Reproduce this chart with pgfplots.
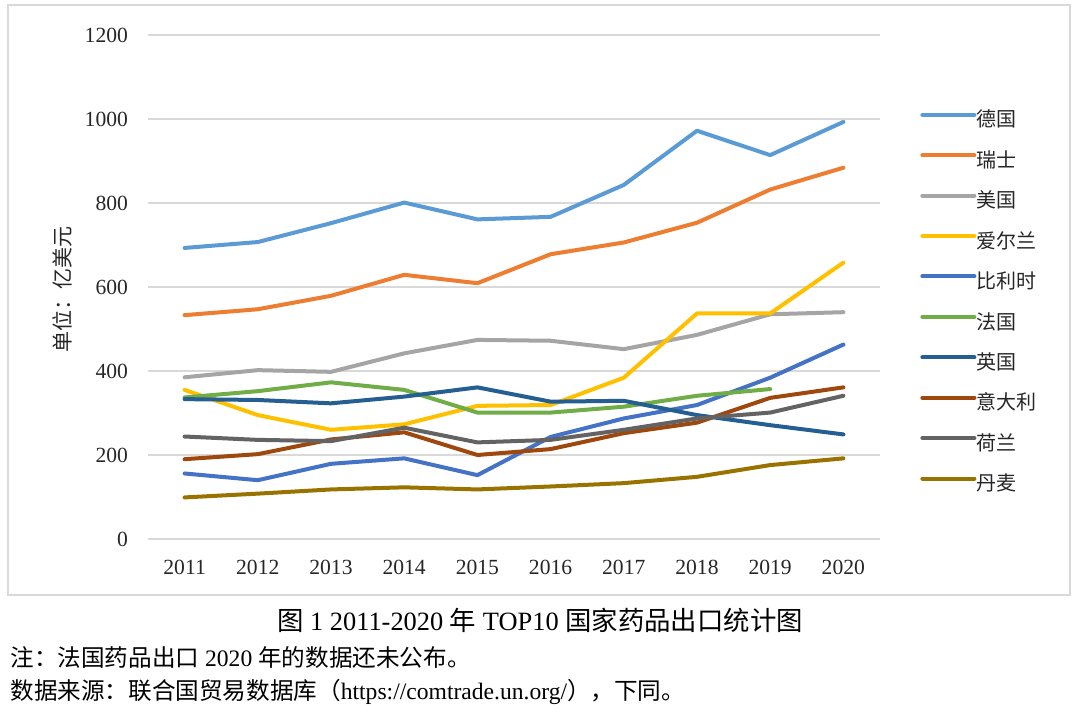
\documentclass[border=0pt]{standalone}
\usepackage{pgfplots}
\pgfplotsset{compat=1.18}
\usepackage{fontspec}
\setmainfont{Liberation Serif}
\newfontfamily\cjk{Noto Sans CJK SC}

\definecolor{cDE}{HTML}{5B9BD5}
\definecolor{cCH}{HTML}{ED7D31}
\definecolor{cUS}{HTML}{A5A5A5}
\definecolor{cIE}{HTML}{FFC000}
\definecolor{cBE}{HTML}{4472C4}
\definecolor{cFR}{HTML}{70AD47}
\definecolor{cGB}{HTML}{255E91}
\definecolor{cIT}{HTML}{9E480E}
\definecolor{cNL}{HTML}{636363}
\definecolor{cDK}{HTML}{997300}
\definecolor{gridgray}{HTML}{D9D9D9}
\definecolor{txt}{HTML}{262626}

\begin{document}
\begin{tikzpicture}
  \path[use as bounding box] (0pt,0pt) rectangle (540pt,358pt);
  % frame of the chart
  \draw[gridgray, line width=0.6pt] (4pt,60.5pt) rectangle (535pt,355.5pt);
  \begin{axis}[
      at={(74pt,88.5pt)}, anchor=south west,
      scale only axis, width=366pt, height=252pt,
      xmin=2010.5, xmax=2020.5,
      ymin=0, ymax=1200,
      xtick={2011,...,2020},
      ytick={0,200,...,1200},
      /pgf/number format/1000 sep={},
      xticklabel style={yshift=-7pt},
      yticklabel style={xshift=-6.5pt},
      /pgf/number format/assume math mode=true,
      ticklabel style={font=\fontsize{10.8}{12}\selectfont, text=txt},
      major tick length=0pt,
      axis line style={draw=none},
      ymajorgrids, grid style={gridgray, line width=0.6pt},
      every axis plot/.append style={line width=2pt, line cap=round, line join=round},
      legend style={at={(1.0546,0.848)}, anchor=north west, draw=none, fill=none,
        inner sep=0pt, row sep=10.7pt, font=\cjk\fontsize{10}{12}\selectfont, text=txt,
        nodes={inner sep=0pt, text height=7.5pt, text depth=2pt},
        /tikz/every even column/.append style={column sep=3pt}},
      legend cell align=left,
      legend image code/.code={\draw[#1] (0pt,3.3pt) -- (26pt,3.3pt);},
    ]
    % x axis line at 0
    \draw[gridgray, line width=0.6pt] (axis cs:2010.5,0) -- (axis cs:2020.5,0);

    \addplot[cDE] coordinates {(2011,693) (2012,707) (2013,752) (2014,801) (2015,761) (2016,767) (2017,843) (2018,972) (2019,914) (2020,993)};
    \addplot[cCH] coordinates {(2011,533) (2012,547) (2013,579) (2014,629) (2015,609) (2016,678) (2017,706) (2018,753) (2019,832) (2020,884)};
    \addplot[cUS] coordinates {(2011,385) (2012,402) (2013,398) (2014,442) (2015,474) (2016,472) (2017,452) (2018,486) (2019,535) (2020,540)};
    \addplot[cIE] coordinates {(2011,355) (2012,295) (2013,260) (2014,273) (2015,317) (2016,319) (2017,384) (2018,537) (2019,537) (2020,658)};
    \addplot[cBE] coordinates {(2011,156) (2012,140) (2013,179) (2014,192) (2015,152) (2016,243) (2017,287) (2018,319) (2019,384) (2020,463)};
    \addplot[cFR] coordinates {(2011,337) (2012,352) (2013,373) (2014,355) (2015,301) (2016,301) (2017,315) (2018,341) (2019,357)};
    \addplot[cGB] coordinates {(2011,333) (2012,331) (2013,323) (2014,339) (2015,361) (2016,327) (2017,329) (2018,295) (2019,271) (2020,249)};
    \addplot[cIT] coordinates {(2011,190) (2012,202) (2013,237) (2014,254) (2015,200) (2016,214) (2017,252) (2018,277) (2019,336) (2020,361)};
    \addplot[cNL] coordinates {(2011,244) (2012,236) (2013,233) (2014,265) (2015,230) (2016,236) (2017,260) (2018,287) (2019,301) (2020,341)};
    \addplot[cDK] coordinates {(2011,99) (2012,108) (2013,118) (2014,123) (2015,118) (2016,125) (2017,133) (2018,148) (2019,176) (2020,192)};
    \legend{德国,瑞士,美国,爱尔兰,比利时,法国,英国,意大利,荷兰,丹麦}
  \end{axis}
  % y label
  \node[rotate=90, text=txt, font=\cjk\fontsize{10.5}{12}\selectfont] at (31pt,213pt) {单位：亿美元};
  % caption and notes
  \node[font=\fontsize{13.2}{15}\selectfont] at (270pt,48pt) {{\cjk 图} 1 2011-2020 {\cjk 年} TOP10 {\cjk 国家药品出口统计图}};
  \node[anchor=west, inner sep=0pt, font=\fontsize{11.8}{14}\selectfont] at (5pt,29pt) {{\cjk 注：法国药品出口} 2020 {\cjk 年的数据还未公布。}};
  \node[anchor=west, inner sep=0pt, font=\fontsize{11.8}{14}\selectfont] at (5pt,12pt) {{\cjk 数据来源：联合国贸易数据库（}https://comtrade.un.org/{\cjk ），下同。}};
\end{tikzpicture}
\end{document}
